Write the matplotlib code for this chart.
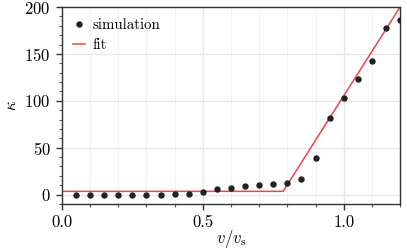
import numpy as np
import matplotlib
matplotlib.use("Agg")
import matplotlib.pyplot as plt
from matplotlib.ticker import MultipleLocator

# data
v_sim = [0.05, 0.10, 0.15, 0.20, 0.25, 0.30, 0.35, 0.40, 0.45, 0.50, 0.55, 0.60,
         0.65, 0.70, 0.75, 0.80, 0.85, 0.90, 0.95, 1.00, 1.05, 1.10, 1.15, 1.20]
kappa_sim = [0.0, 0.0, 0.0, 0.0, 0.0, 0.0, 0.0, 0.4, 1.0, 2.5, 5.5, 7.4,
             8.8, 10.6, 11.3, 12.4, 16.6, 39.4, 82.0, 103.5, 123.7, 142.5, 178.0, 186.5]

v_fit = [0.0, 0.785, 1.2]
kappa_fit = [3.5, 3.5, 200.0]

plt.rcParams['font.family'] = 'serif'
plt.rcParams['font.serif'] = ['cmr10']
plt.rcParams['mathtext.fontset'] = 'cm'
plt.rcParams['axes.formatter.use_mathtext'] = True
plt.rcParams['font.size'] = 12

fig, ax = plt.subplots(figsize=(4.07, 2.5), dpi=100)
fig.subplots_adjust(left=0.152, right=0.983, top=0.972, bottom=0.184)

ax.grid(True, which='major', color='#e6e6e6', lw=0.9, zorder=0)
ax.grid(True, which='minor', axis='x', color='#eeeeee', lw=0.6, zorder=0)

ax.plot(v_sim, kappa_sim, 'o', color='#222222', ms=3.6, label='simulation', zorder=3)
ax.plot(v_fit, kappa_fit, '-', color='#f0454b', lw=1.1, label='fit', zorder=2)

ax.set_xlim(0, 1.2)
ax.set_ylim(-10, 200)
ax.xaxis.set_major_locator(MultipleLocator(0.5))
ax.xaxis.set_minor_locator(MultipleLocator(0.1))
ax.yaxis.set_major_locator(MultipleLocator(50))
ax.yaxis.set_minor_locator(MultipleLocator(10))
ax.xaxis.set_major_formatter(plt.FormatStrFormatter('%.1f'))

for s in ax.spines.values():
    s.set_color('#333333')
    s.set_linewidth(1.0)
ax.tick_params(which='major', length=4, width=1.0, color='#333333', labelsize=12, pad=4)
ax.tick_params(which='minor', length=2.5, width=0.8, color='#555555')

ax.set_xlabel(r'$v/v_\mathrm{s}$', fontsize=12, labelpad=-2)
ax.set_ylabel(r'$\kappa$', fontsize=12, labelpad=4)

ax.legend(loc='upper left', frameon=False, handlelength=0.8, handletextpad=0.5,
          borderaxespad=0.35, labelspacing=0.45, fontsize=10.7)

plt.savefig('out.png', dpi=100)
